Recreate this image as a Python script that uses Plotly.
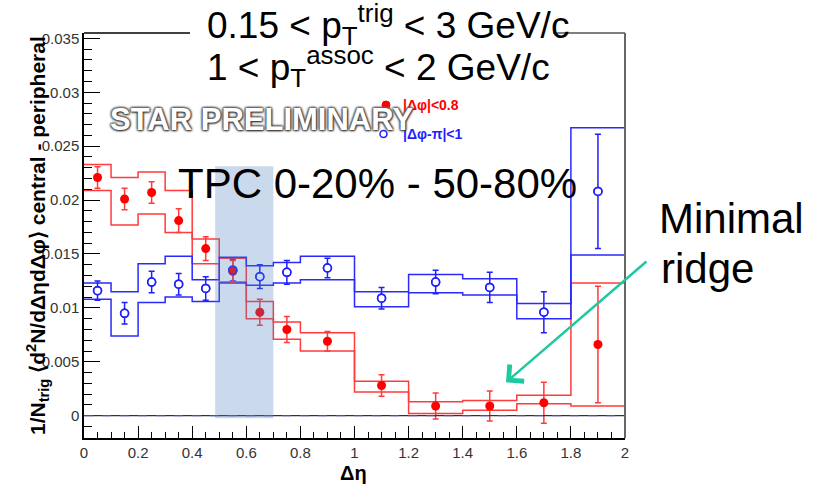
import plotly.graph_objects as go

# ---------------- data ----------------
bin_edges = [0, 0.1, 0.2, 0.3, 0.4, 0.5, 0.6, 0.7, 0.8, 1.0, 1.2, 1.4, 1.6, 1.8, 2.0]
bin_centers = [0.05, 0.15, 0.25, 0.35, 0.45, 0.55, 0.65, 0.75, 0.9, 1.1, 1.3, 1.5, 1.7, 1.9]

near_side = [0.0221, 0.0201, 0.0207, 0.0181, 0.0155, 0.0134, 0.0096, 0.0080, 0.0069, 0.0028, 0.0009, 0.0009, 0.0012, 0.0066]
near_err = [0.0010, 0.0010, 0.0010, 0.0011, 0.0011, 0.0010, 0.0012, 0.0012, 0.0009, 0.0010, 0.0012, 0.0014, 0.0019, 0.0054]
near_sys_hi = [0.0233, 0.0221, 0.0226, 0.0209, 0.0164, 0.0146, 0.0106, 0.0087, 0.0077, 0.0032, 0.0013, 0.0014, 0.0019, 0.0123]
near_sys_lo = [0.0209, 0.0177, 0.0187, 0.0170, 0.0141, 0.0124, 0.0090, 0.0071, 0.0060, 0.0022, 0.0002, 0.0005, 0.0011, 0.0009]

away_side = [0.0116, 0.0095, 0.0124, 0.0122, 0.0118, 0.0135, 0.0129, 0.0133, 0.0137, 0.0109, 0.0124, 0.0119, 0.0096, 0.0208]
away_err = [0.0009, 0.0010, 0.0010, 0.0010, 0.0011, 0.0010, 0.0011, 0.0011, 0.0009, 0.0010, 0.0011, 0.0014, 0.0019, 0.0053]
away_sys_hi = [0.0123, 0.0115, 0.0141, 0.0148, 0.0126, 0.0147, 0.0139, 0.0142, 0.0148, 0.0115, 0.0131, 0.0127, 0.0104, 0.0267]
away_sys_lo = [0.0108, 0.0074, 0.0105, 0.0110, 0.0106, 0.0123, 0.0121, 0.0123, 0.0126, 0.0101, 0.0114, 0.0112, 0.0090, 0.0149]

highlight_eta = [0.485, 0.70]
highlight_y = [-0.00024, 0.02314]
arrow_tip = [1.56, 0.0031]

x_range = [0, 2]
y_range = [-0.00207, 0.0355]

# ---------------- layout geometry ----------------
W, H = 822, 489
L, R, T, B = 84, 625, 33, 438
FONT = "Liberation Sans, Arial, sans-serif"
RED = "#ff0000"
RED_LINE = "#ff3b3b"
BLUE = "#1f1fff"
BLUE_LINE = "#2a2aff"


def px(x):
    return (x - L) / (R - L)


def py(y):
    return (B - y) / (B - T)


def steps(vals):
    return list(vals) + [vals[-1]]


fig = go.Figure()

for vals, col in [(near_sys_hi, RED_LINE), (near_sys_lo, RED_LINE),
                  (away_sys_hi, BLUE_LINE), (away_sys_lo, BLUE_LINE)]:
    fig.add_trace(go.Scatter(x=bin_edges, y=steps(vals), mode="lines",
                             line=dict(color=col, width=1.5, shape="hv"),
                             hoverinfo="skip", showlegend=False))

# away side points (white filled)
fig.add_trace(go.Scatter(
    x=bin_centers, y=away_side, mode="markers",
    marker=dict(symbol="circle", size=8, color="white", line=dict(color=BLUE, width=1.5)),
    error_y=dict(type="data", array=away_err, color=BLUE, thickness=1.5, width=3),
    showlegend=False))

# near side points
fig.add_trace(go.Scatter(
    x=bin_centers, y=near_side, mode="markers",
    marker=dict(symbol="circle", size=9, color=RED),
    error_y=dict(type="data", array=near_err, color=RED_LINE, thickness=1.5, width=3),
    showlegend=False))

# away side rings on top
fig.add_trace(go.Scatter(
    x=bin_centers, y=away_side, mode="markers",
    marker=dict(symbol="circle-open", size=8, color=BLUE, line=dict(width=1.5)),
    showlegend=False, hoverinfo="skip"))

shapes = [
    # zero line
    dict(type="line", xref="x", yref="y", x0=x_range[0], x1=x_range[1], y0=0, y1=0,
         line=dict(color="#333333", width=1.2), layer="above"),
    dict(type="line", xref="x", yref="y", x0=x_range[0], x1=x_range[1], y0=0, y1=0,
         line=dict(color="#4a4aff", width=1, dash="dash"), layer="above"),
    # frame: top (partially hidden by title box) and right
    dict(type="line", xref="paper", yref="paper", x0=0, x1=px(190), y0=1, y1=1,
         line=dict(color="black", width=1.5)),
    dict(type="line", xref="paper", yref="paper", x0=px(553), x1=1, y0=1, y1=1,
         line=dict(color="#555555", width=1.5)),
    dict(type="line", xref="paper", yref="paper", x0=1, x1=1, y0=0, y1=1,
         line=dict(color="#666666", width=2)),
    # highlighted eta region
    dict(type="rect", xref="x", yref="y", x0=highlight_eta[0], x1=highlight_eta[1],
         y0=highlight_y[0], y1=highlight_y[1], fillcolor="rgba(79,129,189,0.3)",
         line=dict(width=0), layer="above"),
    # legend markers
    dict(type="circle", xref="paper", yref="paper", x0=px(382), x1=px(390), y0=py(109), y1=py(101),
         fillcolor=RED, line=dict(color=RED, width=1)),
    dict(type="circle", xref="paper", yref="paper", x0=px(380), x1=px(387), y0=py(137.5), y1=py(130.5),
         fillcolor="white", line=dict(color=BLUE, width=1.5)),
]

ann = []
ann.append(dict(text="<b>|Δφ|<0.8</b>", x=px(401), y=py(105), xref="paper", yref="paper",
                xanchor="left", yanchor="middle", showarrow=False,
                font=dict(family=FONT, size=14, color=RED)))
ann.append(dict(text="<b>|Δφ-π|<1</b>", x=px(401), y=py(134), xref="paper", yref="paper",
                xanchor="left", yanchor="middle", showarrow=False,
                font=dict(family=FONT, size=14, color=BLUE)))
ann.append(dict(text="<b>STAR PRELIMINARY</b>", x=px(261), y=py(120), xref="paper", yref="paper",
                xanchor="center", yanchor="middle", showarrow=False,
                font=dict(family=FONT, size=31, color="white",
                          shadow="1px 1px 2px #333, -1px -1px 2px #666, 1px -1px 2px #666, -1px 1px 2px #666")))
ann.append(dict(text="0.15 < p<sub>T</sub><sup>trig</sup> < 3 GeV/c", x=px(205), y=py(24),
                xref="paper", yref="paper", xanchor="left", yanchor="middle", showarrow=False,
                font=dict(family=FONT, size=37, color="black")))
ann.append(dict(text="1 < p<sub>T</sub><sup>assoc</sup> < 2 GeV/c", x=px(205), y=py(66),
                xref="paper", yref="paper", xanchor="left", yanchor="middle", showarrow=False,
                font=dict(family=FONT, size=37, color="black")))
ann.append(dict(text="TPC 0-20% - 50-80%", x=px(176), y=py(183), xref="paper", yref="paper",
                xanchor="left", yanchor="middle", showarrow=False,
                font=dict(family=FONT, size=42, color="black")))
ann.append(dict(text="Minimal", x=px(657), y=py(218), xref="paper", yref="paper",
                xanchor="left", yanchor="middle", showarrow=False,
                font=dict(family=FONT, size=42, color="black")))
ann.append(dict(text="ridge", x=px(659), y=py(268), xref="paper", yref="paper",
                xanchor="left", yanchor="middle", showarrow=False,
                font=dict(family=FONT, size=42, color="black")))
ann.append(dict(text="", x=arrow_tip[0], y=arrow_tip[1], xref="x", yref="y",
                ax=142, ay=-122, showarrow=True, arrowhead=4, arrowsize=1.7,
                arrowwidth=2.5, arrowcolor="#1ec8a0"))
ann.append(dict(text="<b>1/N<sub>trig</sub> ⟨d<sup>2</sup>N/dΔηdΔφ⟩ central - peripheral</b>",
                x=px(37), y=py(236), xref="paper", yref="paper", textangle=-90,
                xanchor="center", yanchor="middle", showarrow=False,
                font=dict(family=FONT, size=21, color="black")))
ann.append(dict(text="<b>Δη</b>", x=px(353), y=py(473), xref="paper", yref="paper",
                xanchor="center", yanchor="middle", showarrow=False,
                font=dict(family=FONT, size=20, color="black")))

fig.update_layout(
    width=W, height=H,
    margin=dict(l=L, r=W - R, t=T, b=H - B, pad=0),
    paper_bgcolor="white", plot_bgcolor="white",
    showlegend=False,
    shapes=shapes, annotations=ann,
    font=dict(family=FONT),
    xaxis=dict(range=x_range, dtick=0.2, tick0=0, ticks="inside", ticklen=12, tickwidth=1.2,
               tickcolor="black", showline=True, linecolor="black", linewidth=1.5,
               showgrid=False, zeroline=False,
               tickfont=dict(family=FONT, size=15, color="#333333"),
               minor=dict(dtick=0.05, ticks="inside", ticklen=6, tickcolor="black", tickwidth=1.2)),
    yaxis=dict(range=y_range, dtick=0.005, tick0=0, ticks="inside", ticklen=16, tickwidth=1.2,
               tickcolor="black", showline=True, linecolor="black", linewidth=1.5,
               showgrid=False, zeroline=False,
               tickfont=dict(family=FONT, size=15, color="#333333"),
               minor=dict(dtick=0.001, ticks="inside", ticklen=8, tickcolor="black", tickwidth=1.2)),
)

fig.write_html("out.html")
